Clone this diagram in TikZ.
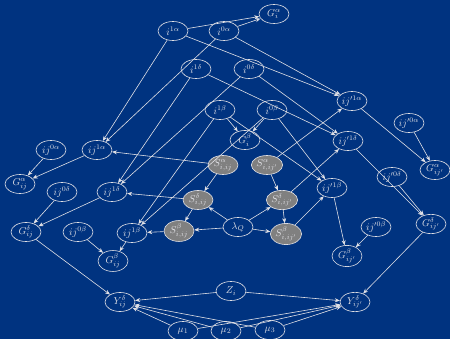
\documentclass[tikz,border=0pt]{standalone}
\usepackage{amsmath,amssymb}
\usepackage{tikz}
\usetikzlibrary{shapes.geometric,arrows.meta}
\usepackage{xcolor}
\definecolor{bgblue}{RGB}{0,51,128}
\definecolor{edge}{RGB}{225,225,230}
\definecolor{latent}{RGB}{128,128,128}

\begin{document}
\begin{tikzpicture}[x=1pt,y=-1pt,>={Stealth[length=5pt,width=4pt]},
  var/.style={ellipse,draw=edge,text=edge,inner sep=0.5pt,minimum width=30pt,minimum height=19pt},
  svar/.style={var,fill=latent},
  every path/.style={edge,semithick}]
\fill[bgblue] (0,0) rectangle (450,339);
\useasboundingbox (0,0) rectangle (450,339);
% subject level
\node[var] (i1a) at (173,31) {$i^{1\alpha}$};
\node[var] (i0a) at (224,31) {$i^{0\alpha}$};
\node[var] (Gai) at (274,14) {$G^{\alpha}_{i}$};
\node[var] (i1d) at (196,69) {$i^{1\delta}$};
\node[var] (i0d) at (249,69) {$i^{0\delta}$};
\node[var] (i1b) at (220,110) {$i^{1\beta}$};
\node[var] (i0b) at (272,110) {$i^{0\beta}$};
\node[var] (Gbi) at (245,140) {$G^{\beta}_{i}$};
% pair ij
\node[var] (ij0a) at (51,150) {$ij^{0\alpha}$};
\node[var] (ij1a) at (97,150) {$ij^{1\alpha}$};
\node[var] (Gaij) at (20,184) {$G^{\alpha}_{ij}$};
\node[var] (ij0d) at (62,192) {$ij^{0\delta}$};
\node[var] (ij1d) at (112,192) {$ij^{1\delta}$};
\node[var] (Gdij) at (26,232) {$G^{\delta}_{ij}$};
\node[var] (ij0b) at (78,232) {$ij^{0\beta}$};
\node[var] (ij1b) at (132,233) {$ij^{1\beta}$};
\node[var] (Gbij) at (113,261) {$G^{\beta}_{ij}$};
% pair ij'
\node[var] (ijp1a) at (352,101) {$ij'^{1\alpha}$};
\node[var] (ijp0a) at (409,123) {$ij'^{0\alpha}$};
\node[var] (Gaijp) at (435,170) {$G^{\alpha}_{ij'}$};
\node[var] (ijp1d) at (348,141) {$ij'^{1\delta}$};
\node[var] (ijp0d) at (392,177) {$ij'^{0\delta}$};
\node[var] (Gdijp) at (431,224) {$G^{\delta}_{ij'}$};
\node[var] (ijp1b) at (332,188) {$ij'^{1\beta}$};
\node[var] (ijp0b) at (376,227) {$ij'^{0\beta}$};
\node[var] (Gbijp) at (347,256) {$G^{\beta}_{ij'}$};
% selection
\node[svar] (Saij) at (223,165) {$S^{\alpha}_{i,ij}$};
\node[svar] (Sapij) at (267,165) {$S^{\alpha}_{i,ij'}$};
\node[svar] (Sdij) at (198,200) {$S^{\delta}_{i,ij}$};
\node[svar] (Sdpij) at (282,200) {$S^{\delta}_{i,ij'}$};
\node[svar] (Sbij) at (179,231) {$S^{\beta}_{i,ij}$};
\node[svar] (Sbpij) at (286,234) {$S^{\beta}_{i,ij'}$};
\node[var] (lam) at (238,227) {$\lambda_Q$};
% outcomes
\node[var] (Z) at (231,291) {$Z_i$};
\node[var] (Yij) at (120,302) {$Y^{\delta}_{ij}$};
\node[var] (Yijp) at (355,302) {$Y^{\delta}_{ij'}$};
\node[var] (mu1) at (183,331) {$\mu_1$};
\node[var] (mu2) at (226,331) {$\mu_2$};
\node[var] (mu3) at (270,330) {$\mu_3$};

\foreach \a/\b in {i1a/Gai,i0a/Gai,i1b/Gbi,i0b/Gbi,
  i1a/ij1a,i0a/ij1a,i1a/ijp1a,i0a/ijp1a,
  i1d/ij1d,i0d/ij1d,i1d/ijp1d,i0d/ijp1d,
  i1b/ij1b,i0b/ij1b,i1b/ijp1b,i0b/ijp1b,
  Saij/ij1a,Sapij/ijp1a,Sdij/ij1d,Sdpij/ijp1d,Sbij/ij1b,Sbpij/ijp1b,
  Saij/Sdij,Sdij/Sbij,Sapij/Sdpij,Sdpij/Sbpij,
  lam/Sdij,lam/Sbij,lam/Sdpij,lam/Sbpij,
  ij0a/Gaij,ij1a/Gaij,ij0d/Gdij,ij1d/Gdij,ij0b/Gbij,ij1b/Gbij,
  ijp0a/Gaijp,ijp1a/Gaijp,ijp0d/Gdijp,ijp1d/Gdijp,ijp0b/Gbijp,ijp1b/Gbijp,
  Gdij/Yij,Gdijp/Yijp,Z/Yij,Z/Yijp,
  mu1/Yij,mu2/Yij,mu3/Yij,mu1/Yijp,mu2/Yijp,mu3/Yijp}
  \draw[->] (\a) -- (\b);
\end{tikzpicture}
\end{document}
